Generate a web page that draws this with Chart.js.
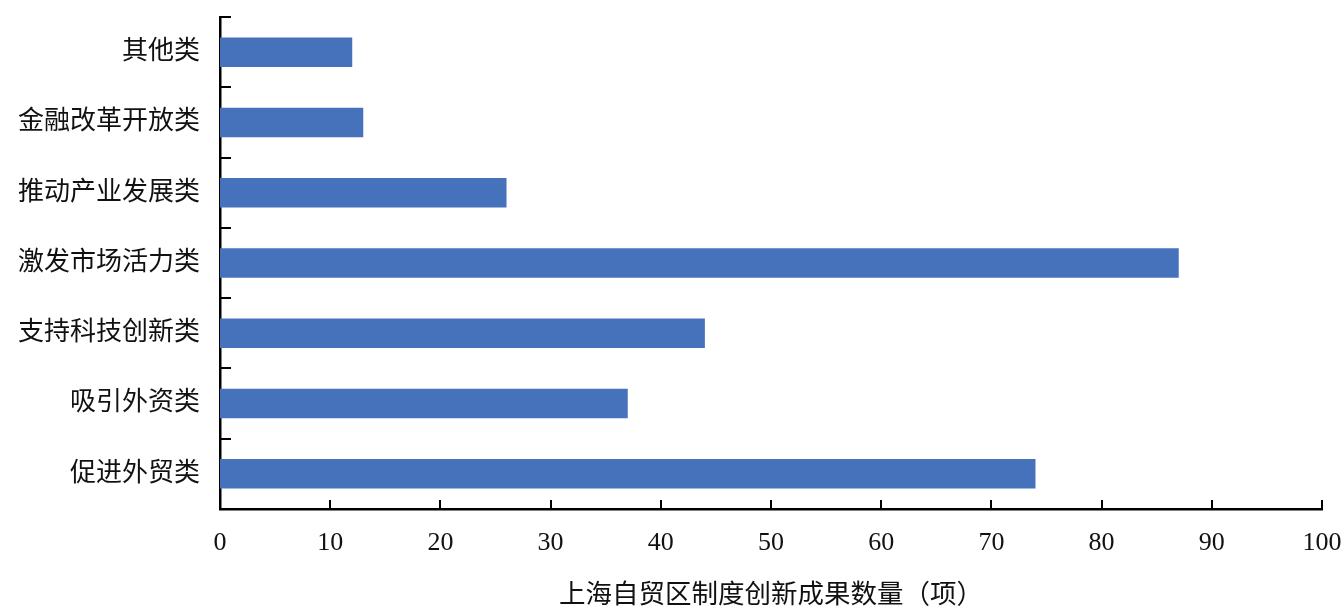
<!DOCTYPE html>
<html>
<head>
<meta charset="utf-8">
<script src="https://cdn.jsdelivr.net/npm/chart.js@4"></script>
<style>
  html, body { margin: 0; padding: 0; background: #fff; }
  #wrap { width: 1341px; height: 612px; }
</style>
</head>
<body>
<div id="wrap"><canvas id="barChart" width="1341" height="612"></canvas></div>
<script>
// categories top to bottom
const categories = ['其他类', '金融改革开放类', '推动产业发展类', '激发市场活力类', '支持科技创新类', '吸引外资类', '促进外贸类'];
const counts = [12, 13, 26, 87, 44, 37, 74];
const xTicks = [0, 10, 20, 30, 40, 50, 60, 70, 80, 90, 100];
const axisTitle = '上海自贸区制度创新成果数量（项）';

const fontFamily = "'Liberation Serif', 'Noto Sans CJK SC', serif";

// short tick marks pointing inward, like the original
const innerTicks = {
    id: 'innerTicks',
    afterDraw(chart) {
        const ctx = chart.ctx;
        const x = chart.scales.x;
        const y = chart.scales.y;
        ctx.save();
        ctx.strokeStyle = '#000';
        ctx.lineWidth = 2;
        ctx.beginPath();
        xTicks.forEach(v => {
            const px = Math.round(x.getPixelForValue(v));
            if (v === 0) return;
            ctx.moveTo(px, x.top);
            ctx.lineTo(px, x.top - 9);
        });
        for (let i = 0; i <= categories.length; i++) {
            const py = Math.round(y.getPixelForValue(i - 0.5));
            ctx.moveTo(y.right, py);
            ctx.lineTo(y.right + 11, py);
        }
        ctx.stroke();
        ctx.restore();
    }
};

const ctx = document.getElementById('barChart').getContext('2d');
new Chart(ctx, {
    type: 'bar',
    data: {
        labels: categories,
        datasets: [{
            data: counts,
            backgroundColor: '#4672BC',
            borderWidth: 0,
            categoryPercentage: 0.42,
            barPercentage: 1
        }]
    },
    options: {
        indexAxis: 'y',
        responsive: false,
        animation: false,
        layout: { padding: { top: 17, right: 19, left: 0, bottom: 0 } },
        plugins: {
            legend: { display: false },
            tooltip: { enabled: false }
        },
        scales: {
            x: {
                min: 0,
                max: 100,
                afterBuildTicks(scale) {
                    scale.ticks = xTicks.map(v => ({ value: v }));
                },
                afterFit(scale) {
                    scale.height = 103;
                    scale.paddingLeft = 0;
                    scale.paddingRight = 0;
                },
                grid: { display: false, drawTicks: false },
                border: { display: true, color: '#000', width: 2.5 },
                ticks: {
                    color: '#111',
                    padding: 19,
                    maxRotation: 0,
                    font: { family: fontFamily, size: 26 }
                },
                title: {
                    display: true,
                    text: axisTitle,
                    color: '#111',
                    padding: { top: 6, bottom: 0 },
                    font: { family: fontFamily, size: 26.5 }
                }
            },
            y: {
                afterFit(scale) {
                    scale.width = 220;
                    scale.paddingTop = 0;
                    scale.paddingBottom = 0;
                },
                grid: { display: false, drawTicks: false, offset: true },
                border: { display: true, color: '#000', width: 2.5 },
                ticks: {
                    color: '#111',
                    padding: 20,
                    font: { family: fontFamily, size: 26 }
                }
            }
        }
    },
    plugins: [innerTicks]
});
</script>
</body>
</html>
